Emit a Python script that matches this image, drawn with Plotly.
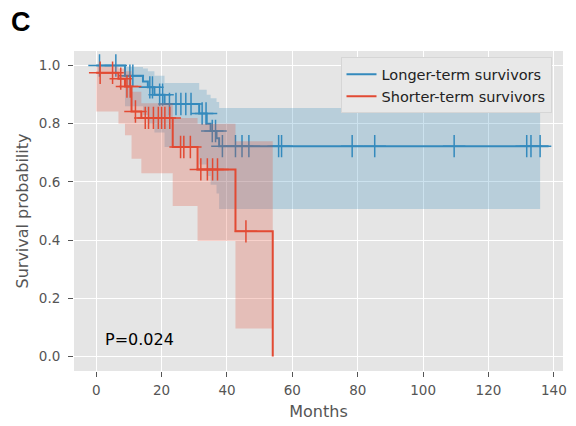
import numpy as np
import plotly.graph_objects as go

# ---- Data ----
# Longer-term survivors (blue)
blue_t = [0, 8.8, 14.3, 15.8, 17.8, 20.9, 31.5, 33.8, 35.0, 36.8, 37.6]
blue_s = [1.0, 0.965, 0.945, 0.925, 0.90, 0.868, 0.835, 0.80, 0.775, 0.75, 0.723]
blue_lo = [1.0, 0.86, 0.83, 0.80, 0.77, 0.72, 0.66, 0.62, 0.59, 0.56, 0.507]
blue_hi = [1.0, 0.995, 0.99, 0.98, 0.965, 0.94, 0.917, 0.90, 0.888, 0.875, 0.854]
blue_end = 138.4
blue_band_end = 135.8
blue_cens = [1.0, 6.0, 10.3, 11.2, 16.4, 17.2, 19.4, 20.3, 22.4, 24.4, 25.9, 27.4,
             29.0, 32.4, 33.6, 35.5, 36.5, 38.6, 42.6, 44.6, 46.7, 55.8, 56.7,
             78.3, 85.2, 109.5, 131.7, 133.0, 135.8]

# Shorter-term survivors (red)
red_t = [0, 6.8, 8.8, 10.8, 13.8, 23.4, 31.0, 42.6, 54.0]
red_s = [0.975, 0.955, 0.928, 0.842, 0.82, 0.72, 0.643, 0.43, 0.0]
red_lo = [0.842, 0.80, 0.76, 0.68, 0.63, 0.517, 0.397, 0.096]
red_hi = [0.996, 0.99, 0.98, 0.91, 0.87, 0.82, 0.80, 0.74]
red_band_end = 54.0
red_cens = [1.2, 5.0, 7.5, 9.4, 10.4, 12.0, 15.0, 16.0, 17.5, 19.0, 20.0, 21.0,
            22.5, 25.8, 26.8, 28.8, 32.0, 34.0, 35.6, 37.1, 45.8]

series_names = ["Longer-term survivors", "Shorter-term survivors"]
p_text = "P=0.024"
panel_label = "C"
x_ticks = [0, 20, 40, 60, 80, 100, 120, 140]
y_ticks = [0.0, 0.2, 0.4, 0.6, 0.8, 1.0]

BLUE = "#348ABD"
RED = "#E24A33"
BLUE_FILL = "rgba(52,138,189,0.25)"
RED_FILL = "rgba(226,74,51,0.25)"


def step_value(times, values, x):
    idx = np.searchsorted(np.asarray(times), np.asarray(x), side="right") - 1
    return [values[i] for i in idx]


fig = go.Figure()


def add_series(name, t, s, lo, hi, band_end, line_x, line_y, cens, color, fill):
    n_band = len(lo)
    bx = list(t[:n_band]) + [band_end]
    fig.add_trace(go.Scatter(x=bx, y=list(lo) + [lo[-1]], mode="lines",
                             line=dict(width=0, shape="hv", color=fill),
                             hoverinfo="skip", showlegend=False))
    fig.add_trace(go.Scatter(x=bx, y=list(hi) + [hi[-1]], mode="lines",
                             line=dict(width=0, shape="hv", color=fill),
                             fill="tonexty", fillcolor=fill,
                             hoverinfo="skip", showlegend=False))
    fig.add_trace(go.Scatter(x=line_x, y=line_y, mode="lines", name=name,
                             line=dict(color=color, width=2, shape="hv")))
    fig.add_trace(go.Scatter(x=cens, y=step_value(t, s, cens), mode="markers",
                             marker=dict(symbol="cross-thin", size=16,
                                         line=dict(color=color, width=1.5)),
                             showlegend=False, hoverinfo="skip"))


add_series(series_names[0], blue_t, blue_s, blue_lo, blue_hi, blue_band_end,
           blue_t + [blue_end], blue_s + [blue_s[-1]], blue_cens, BLUE, BLUE_FILL)
add_series(series_names[1], red_t, red_s, red_lo, red_hi, red_band_end,
           red_t, red_s, red_cens, RED, RED_FILL)

fig.add_annotation(x=2.0, y=0.058, xref="x", yref="y", text=p_text,
                   showarrow=False, xanchor="left", yanchor="middle",
                   font=dict(family="DejaVu Sans", size=16, color="black"))
fig.add_annotation(x=-0.132, y=1.09, xref="paper", yref="paper", text="<b>" + panel_label + "</b>",
                   showarrow=False, xanchor="left", yanchor="middle",
                   font=dict(family="Liberation Sans", size=27, color="black"))

axis_common = dict(showgrid=True, gridcolor="white", gridwidth=1, zeroline=False,
                   showline=False, ticks="outside", ticklen=5, tickwidth=1,
                   tickcolor="#555555",
                   tickfont=dict(family="DejaVu Sans", size=13.5, color="#555555"))

fig.update_xaxes(range=[-6.8, 142.8], tickvals=x_ticks, ticklabelstandoff=2,
                 title=dict(text="Months", standoff=8,
                            font=dict(family="DejaVu Sans", size=16, color="#555555")),
                 **axis_common)
fig.update_yaxes(range=[-0.05, 1.05], tickvals=y_ticks, tickformat=".1f",
                 ticklabelstandoff=5,
                 title=dict(text="Survival probability", standoff=6,
                            font=dict(family="DejaVu Sans", size=16, color="#555555")),
                 **axis_common)

fig.update_layout(
    width=576, height=426,
    margin=dict(l=74, r=9, t=51, b=53),
    paper_bgcolor="white", plot_bgcolor="#E5E5E5",
    showlegend=True,
    legend=dict(x=0.545, y=0.98, xanchor="left", yanchor="top",
                traceorder="normal",
                bgcolor="#E8E8E8", bordercolor="#D6D6D6", borderwidth=1,
                font=dict(family="DejaVu Sans", size=14.5, color="#222222"),
                tracegroupgap=0),
)

fig.write_html("out.html")
